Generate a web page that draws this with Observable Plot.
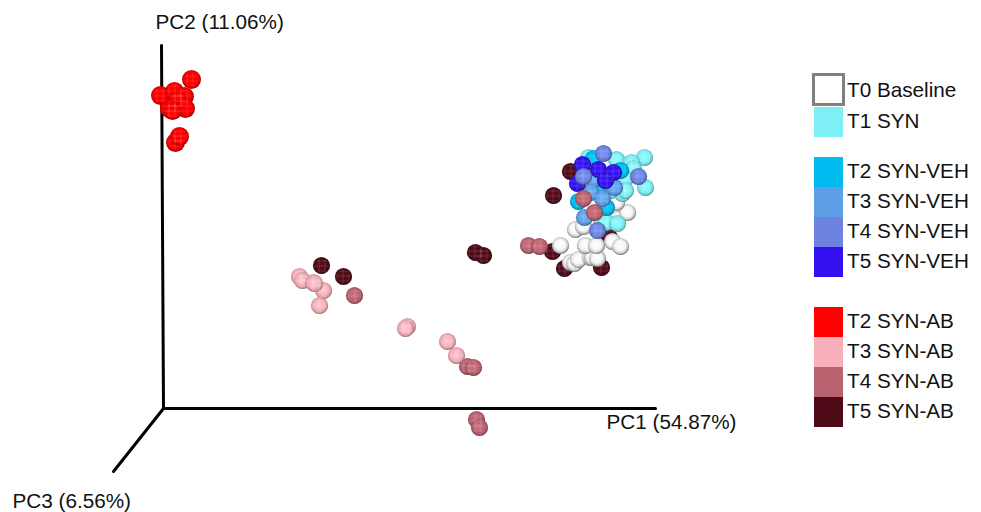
<!DOCTYPE html>
<html><head><meta charset="utf-8">
<script src="https://cdn.jsdelivr.net/npm/d3@7"></script>
<script src="https://cdn.jsdelivr.net/npm/@observablehq/plot@0.6"></script>
<style>
html,body{margin:0;padding:0;background:#fff}
#wrap{position:relative;width:981px;height:512px;font-family:"Liberation Sans",Arial,sans-serif}
#legend{position:absolute;left:0;top:0;width:0;height:0}
.sw{position:absolute;left:814px;width:29px;height:30px;box-sizing:border-box}
.lb{position:absolute;left:847px;font-size:20.7px;line-height:30px;color:#111;white-space:nowrap}
svg text{font-family:"Liberation Sans",Arial,sans-serif}
</style></head><body><div id="wrap"><div id="chart"></div><div id="legend"></div></div>
<script>
// Points, in projected (screen-like) PCoA coordinates
const t0Baseline = [[570,262],[574,263],[578,259],[590,257],[592,257],[597,258],[585,245],[596,245],[560,245],[575,229],[583,226],[612,241],[620,246],[611,213],[617,219],[627,212],[616,202]];
const t1Syn = [[588,157],[616,159],[644,157],[631,162],[633,168],[625,178],[645,187],[622,193],[625,190],[601,220],[606,222],[617,223],[610,190]];
const t2Veh = [[593,158],[620,170],[597,190],[578,201],[590,176],[606,207]];
const t3Veh = [[593,179],[590,192],[602,198],[614,187],[584,217],[605,176]];
const t5Veh = [[582,164],[598,169],[613,172],[605,180],[577,183]];
const t4Veh = [[603,153],[583,176],[638,176],[597,230]];
const t2Ab = [[191,79],[160,95],[174,91],[184,96],[177,100],[185,108],[169,108],[172,110],[175,142],[179,136]];
const t3Ab = [[299,276],[302,280],[323,290],[313,282],[314,283],[319,305],[407,326],[405,328],[447,341],[456,355]];
const t4Ab = [[354,295],[467,366],[473,367],[476,419],[479,427],[528,245],[539,246],[583,198],[594,212]];
const t5Ab = [[321,265],[343,276],[475,252],[483,255],[570,171],[553,195],[552,251],[564,268],[601,267],[609,237]];

const groupNames = ["T0 Baseline","T1 SYN","T2 SYN-VEH","T3 SYN-VEH","T4 SYN-VEH","T5 SYN-VEH","T2 SYN-AB","T3 SYN-AB","T4 SYN-AB","T5 SYN-AB"];
const groupColors = ["#ffffff","#7ef0f5","#00bbf0","#5f9fe8","#6c83e0","#3311ee","#ff0000","#f7b0ba","#b8636f","#4f0a17"];
const groupPoints = [t0Baseline,t1Syn,t2Veh,t3Veh,t4Veh,t5Veh,t2Ab,t3Ab,t4Ab,t5Ab];
const legendTops = [73,107,157,187,217,247,307,337,367,397];
// drawing order: deep points first
const drawOrder = [9,0,1,2,3,5,4,6,8,7];

const axisPC1 = [[163,408],[655,408]];
const axisPC2 = [[163,408],[161,45]];
const axisPC3 = [[163,408],[113,471]];
const axisLabels = [
  {x:606,y:422,t:"PC1 (54.87%)"},
  {x:155,y:22,t:"PC2 (11.06%)"},
  {x:12,y:501,t:"PC3 (6.56%)"}
];

function defs(){
  const g = d3.create("svg:g");
  const d = g.append("defs");
  groupColors.forEach((c,i)=>{
    const base = d3.color(c);
    const rg = d.append("radialGradient").attr("id","g"+i)
      .attr("cx","0.48").attr("cy","0.46").attr("r","0.54");
    const stops = i===0
      ? [[0,"#ffffff"],[0.55,"#f6f6f6"],[0.8,"#c8c8c8"],[1,"#666666"]]
      : [[0,base.brighter(0.4).formatHex()],[0.6,c],[0.84,base.darker(0.45).formatHex()],[1,base.darker(1.6).formatHex()]];
    stops.forEach(([o,col])=>rg.append("stop").attr("offset",o).attr("stop-color",col));
  });
  const p = d.append("pattern").attr("id","gridlines").attr("patternUnits","userSpaceOnUse")
    .attr("width",6).attr("height",5);
  p.append("path").attr("d","M0 0.5H6M0.5 0V5").attr("stroke","rgba(255,255,255,0.13)").attr("stroke-width",1).attr("fill","none");
  return g.node();
}

const dotMarks = drawOrder.flatMap(i=>[
  Plot.dot(groupPoints[i],{x:d=>d[0],y:d=>d[1],r:i===6?9.5:8.6,fill:`url(#g${i})`}),
  Plot.dot(groupPoints[i],{x:d=>d[0],y:d=>d[1],r:7.2,fill:"url(#gridlines)"})
]);
const lineOpts = {x:d=>d[0],y:d=>d[1],stroke:"#000",strokeWidth:3};

const chart = Plot.plot({
  width:981,height:512,margin:0,
  x:{domain:[0,981],axis:null},
  y:{domain:[512,0],axis:null},
  style:{background:"transparent"},
  marks:[
    defs,
    Plot.line(axisPC1,lineOpts),
    Plot.line(axisPC2,lineOpts),
    Plot.line(axisPC3,lineOpts),
    ...dotMarks,
    Plot.text(axisLabels,{x:"x",y:"y",text:"t",textAnchor:"start",fontSize:20.7,fill:"#111"})
  ]
});
document.getElementById("chart").appendChild(chart);

const legend = document.getElementById("legend");
groupNames.forEach((name,i)=>{
  const s=document.createElement("div");s.className="sw";
  s.style.top=legendTops[i]+"px";
  if(i===0){s.style.left="812px";s.style.width="33px";s.style.height="33px";s.style.border="3px solid #808080";}
  else s.style.background=groupColors[i];
  legend.appendChild(s);
  const l=document.createElement("div");l.className="lb";
  l.style.top=(i===0?75:legendTops[i]-1)+"px";l.textContent=name;
  legend.appendChild(l);
});
</script></body></html>
